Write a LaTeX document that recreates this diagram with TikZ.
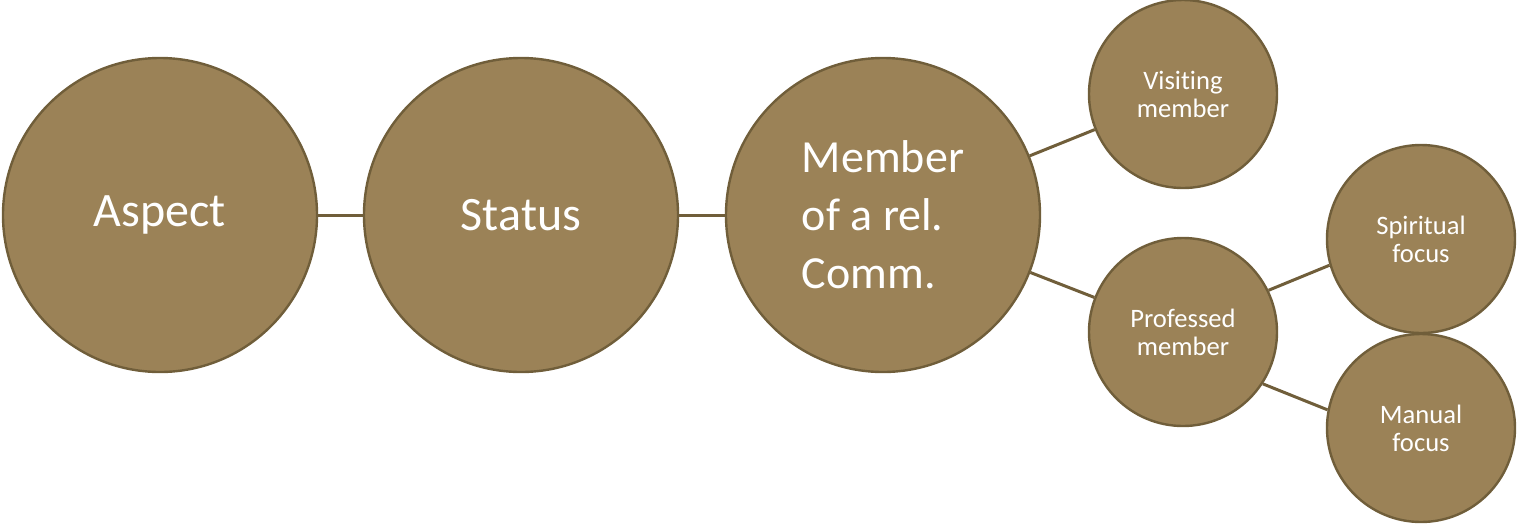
\documentclass[tikz,border=0pt]{standalone}
\usepackage{fontspec}
\setmainfont{Carlito}[Ligatures=NoCommon]
\usepackage{tikz}
\usetikzlibrary{shapes}
\definecolor{ballfill}{RGB}{155,130,87}
\definecolor{balledge}{RGB}{112,94,58}
\tikzset{
   ball/.style={circle, draw=balledge, line width=1.2pt, fill=ballfill, text=white,
                inner sep=0pt, align=center},
   big ball/.style={ball, minimum size=157pt, font=\fontsize{24}{29}\selectfont},
   small ball/.style={ball, minimum size=94pt, font=\fontsize{13.3}{14}\selectfont},
   link/.style={draw=balledge, line width=1.5pt}
}
\begin{document}
\begin{tikzpicture}[x=0.5pt, y=-0.5pt]
\useasboundingbox (0,0) rectangle (1517,527);
\node[big ball] (aspect) at (160,215) {Aspect};
\node[big ball] (status) at (521,215) {Status};
\node[big ball, align=left, font=\fontsize{23}{29}\selectfont] (member) at (883,215) {Member\\of a rel.\\Comm.};
\node[small ball] (visit) at (1183,94) {Visiting\\member};
\node[small ball] (profess) at (1183,332) {Professed\\member};
\node[small ball] (spirit) at (1421,239) {Spiritual\\focus};
\node[small ball] (manual) at (1421,428) {Manual\\focus};
\foreach \A/\B in {aspect/status,status/member,member/visit,member/profess}{
	\draw[link] (\A) -- (\B);
}
\draw[link] (profess.26) -- (spirit.196);
\draw[link] (profess.-33) -- (manual.169);
\end{tikzpicture}
\end{document}
